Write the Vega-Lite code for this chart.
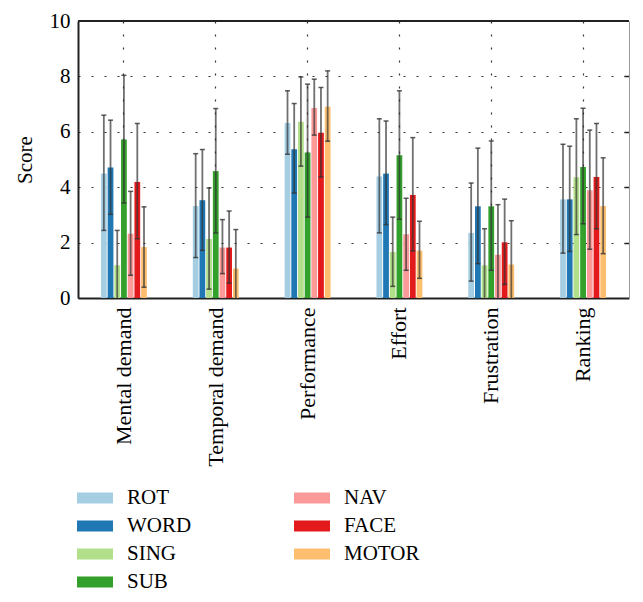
{
  "$schema": "https://vega.github.io/schema/vega-lite/v6.json",
  "width": 551,
  "height": 277,
  "autosize": {"type": "none"},
  "padding": {"left": 78, "top": 21, "right": 14, "bottom": 304},
  "config": {
    "font": "Times New Roman, Liberation Serif, serif",
    "view": {"stroke": null},
    "axis": {"labelFont": "Times New Roman, Liberation Serif, serif", "titleFont": "Times New Roman, Liberation Serif, serif"},
    "legend": {"padding": 0, "labelFont": "Times New Roman, Liberation Serif, serif"}
  },
  "data": {
    "values": [
      {"cat": "Mental demand", "cond": "ROT", "mean": 4.49, "lo": 2.44, "hi": 6.6},
      {"cat": "Mental demand", "cond": "WORD", "mean": 4.71, "lo": 3.02, "hi": 6.42},
      {"cat": "Mental demand", "cond": "SING", "mean": 1.18, "lo": -0.1, "hi": 2.44},
      {"cat": "Mental demand", "cond": "SUB", "mean": 5.72, "lo": 3.43, "hi": 8.04},
      {"cat": "Mental demand", "cond": "NAV", "mean": 2.32, "lo": 0.82, "hi": 3.85},
      {"cat": "Mental demand", "cond": "FACE", "mean": 4.19, "lo": 2.14, "hi": 6.3},
      {"cat": "Mental demand", "cond": "MOTOR", "mean": 1.84, "lo": 0.39, "hi": 3.29},
      {"cat": "Temporal demand", "cond": "ROT", "mean": 3.32, "lo": 1.46, "hi": 5.21},
      {"cat": "Temporal demand", "cond": "WORD", "mean": 3.53, "lo": 1.72, "hi": 5.36},
      {"cat": "Temporal demand", "cond": "SING", "mean": 2.13, "lo": 0.32, "hi": 3.97},
      {"cat": "Temporal demand", "cond": "SUB", "mean": 4.58, "lo": 2.35, "hi": 6.84},
      {"cat": "Temporal demand", "cond": "NAV", "mean": 1.82, "lo": 0.88, "hi": 2.83},
      {"cat": "Temporal demand", "cond": "FACE", "mean": 1.82, "lo": 0.54, "hi": 3.14},
      {"cat": "Temporal demand", "cond": "MOTOR", "mean": 1.06, "lo": -0.35, "hi": 2.47},
      {"cat": "Performance", "cond": "ROT", "mean": 6.32, "lo": 5.19, "hi": 7.48},
      {"cat": "Performance", "cond": "WORD", "mean": 5.37, "lo": 3.79, "hi": 7.02},
      {"cat": "Performance", "cond": "SING", "mean": 6.36, "lo": 4.76, "hi": 7.98},
      {"cat": "Performance", "cond": "SUB", "mean": 5.25, "lo": 2.92, "hi": 7.72},
      {"cat": "Performance", "cond": "NAV", "mean": 6.86, "lo": 5.88, "hi": 7.9},
      {"cat": "Performance", "cond": "FACE", "mean": 5.97, "lo": 4.37, "hi": 7.6},
      {"cat": "Performance", "cond": "MOTOR", "mean": 6.9, "lo": 5.66, "hi": 8.2},
      {"cat": "Effort", "cond": "ROT", "mean": 4.39, "lo": 2.35, "hi": 6.47},
      {"cat": "Effort", "cond": "WORD", "mean": 4.49, "lo": 2.65, "hi": 6.39},
      {"cat": "Effort", "cond": "SING", "mean": 1.66, "lo": 0.42, "hi": 2.92},
      {"cat": "Effort", "cond": "SUB", "mean": 5.15, "lo": 2.84, "hi": 7.48},
      {"cat": "Effort", "cond": "NAV", "mean": 2.3, "lo": 1.0, "hi": 3.6},
      {"cat": "Effort", "cond": "FACE", "mean": 3.72, "lo": 1.7, "hi": 5.79},
      {"cat": "Effort", "cond": "MOTOR", "mean": 1.71, "lo": 0.71, "hi": 2.77},
      {"cat": "Frustration", "cond": "ROT", "mean": 2.35, "lo": 0.61, "hi": 4.15},
      {"cat": "Frustration", "cond": "WORD", "mean": 3.31, "lo": 1.24, "hi": 5.41},
      {"cat": "Frustration", "cond": "SING", "mean": 1.18, "lo": -0.14, "hi": 2.5},
      {"cat": "Frustration", "cond": "SUB", "mean": 3.31, "lo": 1.0, "hi": 5.67},
      {"cat": "Frustration", "cond": "NAV", "mean": 1.56, "lo": -0.25, "hi": 3.37},
      {"cat": "Frustration", "cond": "FACE", "mean": 2.01, "lo": 0.49, "hi": 3.57},
      {"cat": "Frustration", "cond": "MOTOR", "mean": 1.21, "lo": -0.37, "hi": 2.79},
      {"cat": "Ranking", "cond": "ROT", "mean": 3.56, "lo": 1.62, "hi": 5.55},
      {"cat": "Ranking", "cond": "WORD", "mean": 3.56, "lo": 1.68, "hi": 5.48},
      {"cat": "Ranking", "cond": "SING", "mean": 4.36, "lo": 2.29, "hi": 6.47},
      {"cat": "Ranking", "cond": "SUB", "mean": 4.73, "lo": 2.68, "hi": 6.85},
      {"cat": "Ranking", "cond": "NAV", "mean": 3.89, "lo": 1.76, "hi": 6.06},
      {"cat": "Ranking", "cond": "FACE", "mean": 4.37, "lo": 2.5, "hi": 6.3},
      {"cat": "Ranking", "cond": "MOTOR", "mean": 3.32, "lo": 1.6, "hi": 5.06}
    ]
  },
  "layer": [
    {
      "encoding": {
        "x": {
          "field": "cat",
          "type": "nominal",
          "sort": ["Mental demand", "Temporal demand", "Performance", "Effort", "Frustration", "Ranking"],
          "scale": {"paddingInner": 0.5, "paddingOuter": 0.25},
          "axis": {
            "title": null,
            "labelAngle": -90,
            "labelFontSize": 22,
            "labelColor": "#000",
            "labelPadding": 9,
            "ticks": false,
            "domain": true,
            "domainColor": "#222",
            "domainWidth": 2,
            "grid": true,
            "bandPosition": 0.5,
            "gridColor": "#333",
            "gridDash": [2, 11],
            "gridWidth": 1.2
          }
        },
        "xOffset": {
          "field": "cond",
          "type": "nominal",
          "sort": ["ROT", "WORD", "SING", "SUB", "NAV", "FACE", "MOTOR"],
          "scale": {"paddingInner": 0.14}
        }
      },
      "layer": [
        {
          "mark": {"type": "bar"},
          "encoding": {
            "y": {
              "field": "mean",
              "type": "quantitative",
              "scale": {"domain": [0, 10]},
              "axis": {
                "values": [0, 2, 4, 6, 8, 10],
                "title": "Score",
                "titleFontSize": 21,
                "titleFontWeight": "normal",
                "titleColor": "#000",
                "titlePadding": 14,
                "labelFontSize": 21,
                "labelColor": "#000",
                "labelPadding": 8,
                "ticks": false,
                "domain": true,
                "domainColor": "#222",
                "domainWidth": 2,
                "grid": true,
                "gridColor": "#333",
                "gridDash": [2, 11],
                "gridWidth": 1.2
              }
            },
            "color": {
              "field": "cond",
              "type": "nominal",
              "scale": {
                "domain": ["ROT", "WORD", "SING", "SUB", "NAV", "FACE", "MOTOR"],
                "range": ["#a6cee3", "#1f78b4", "#b2df8a", "#33a02c", "#fb9a99", "#e31a1c", "#fdbf6f"]
              },
              "legend": {
                "orient": "none",
                "legendX": -1,
                "legendY": 459,
                "columns": 2,
                "columnPadding": 102,
                "rowPadding": 0,
                "title": null,
                "symbolType": "M-1,-0.3H1V0.3H-1Z",
                "symbolSize": 1296,
                "symbolStrokeWidth": 0,
                "symbolOpacity": 1,
                "labelFontSize": 21,
                "labelColor": "#000",
                "labelOffset": 14
              }
            }
          }
        },
        {
          "mark": {"type": "rule", "clip": true, "color": "#333", "opacity": 0.7, "strokeWidth": 1.8},
          "encoding": {
            "y": {"field": "lo", "type": "quantitative", "axis": null},
            "y2": {"field": "hi"}
          }
        },
        {
          "mark": {"type": "tick", "clip": true, "color": "#333", "opacity": 0.8, "size": 5, "thickness": 1.5},
          "encoding": {
            "y": {"field": "lo", "type": "quantitative", "axis": null}
          }
        },
        {
          "mark": {"type": "tick", "clip": true, "color": "#333", "opacity": 0.8, "size": 5, "thickness": 1.5},
          "encoding": {
            "y": {
              "field": "hi",
              "type": "quantitative",
              "axis": {
                "orient": "right",
                "values": [2, 4, 6, 8],
                "labels": false,
                "title": null,
                "grid": false,
                "domain": true,
                "domainColor": "#999",
                "domainWidth": 1,
                "ticks": true,
                "tickSize": -5,
                "tickColor": "#222",
                "tickWidth": 1.5
              }
            }
          }
        }
      ],
      "resolve": {"axis": {"y": "independent"}}
    },
    {
      "mark": {"type": "rule", "color": "#222", "strokeWidth": 2},
      "encoding": {
        "y": {"datum": 10, "type": "quantitative", "axis": null}
      }
    }
  ],
  "resolve": {"axis": {"y": "independent"}}
}
